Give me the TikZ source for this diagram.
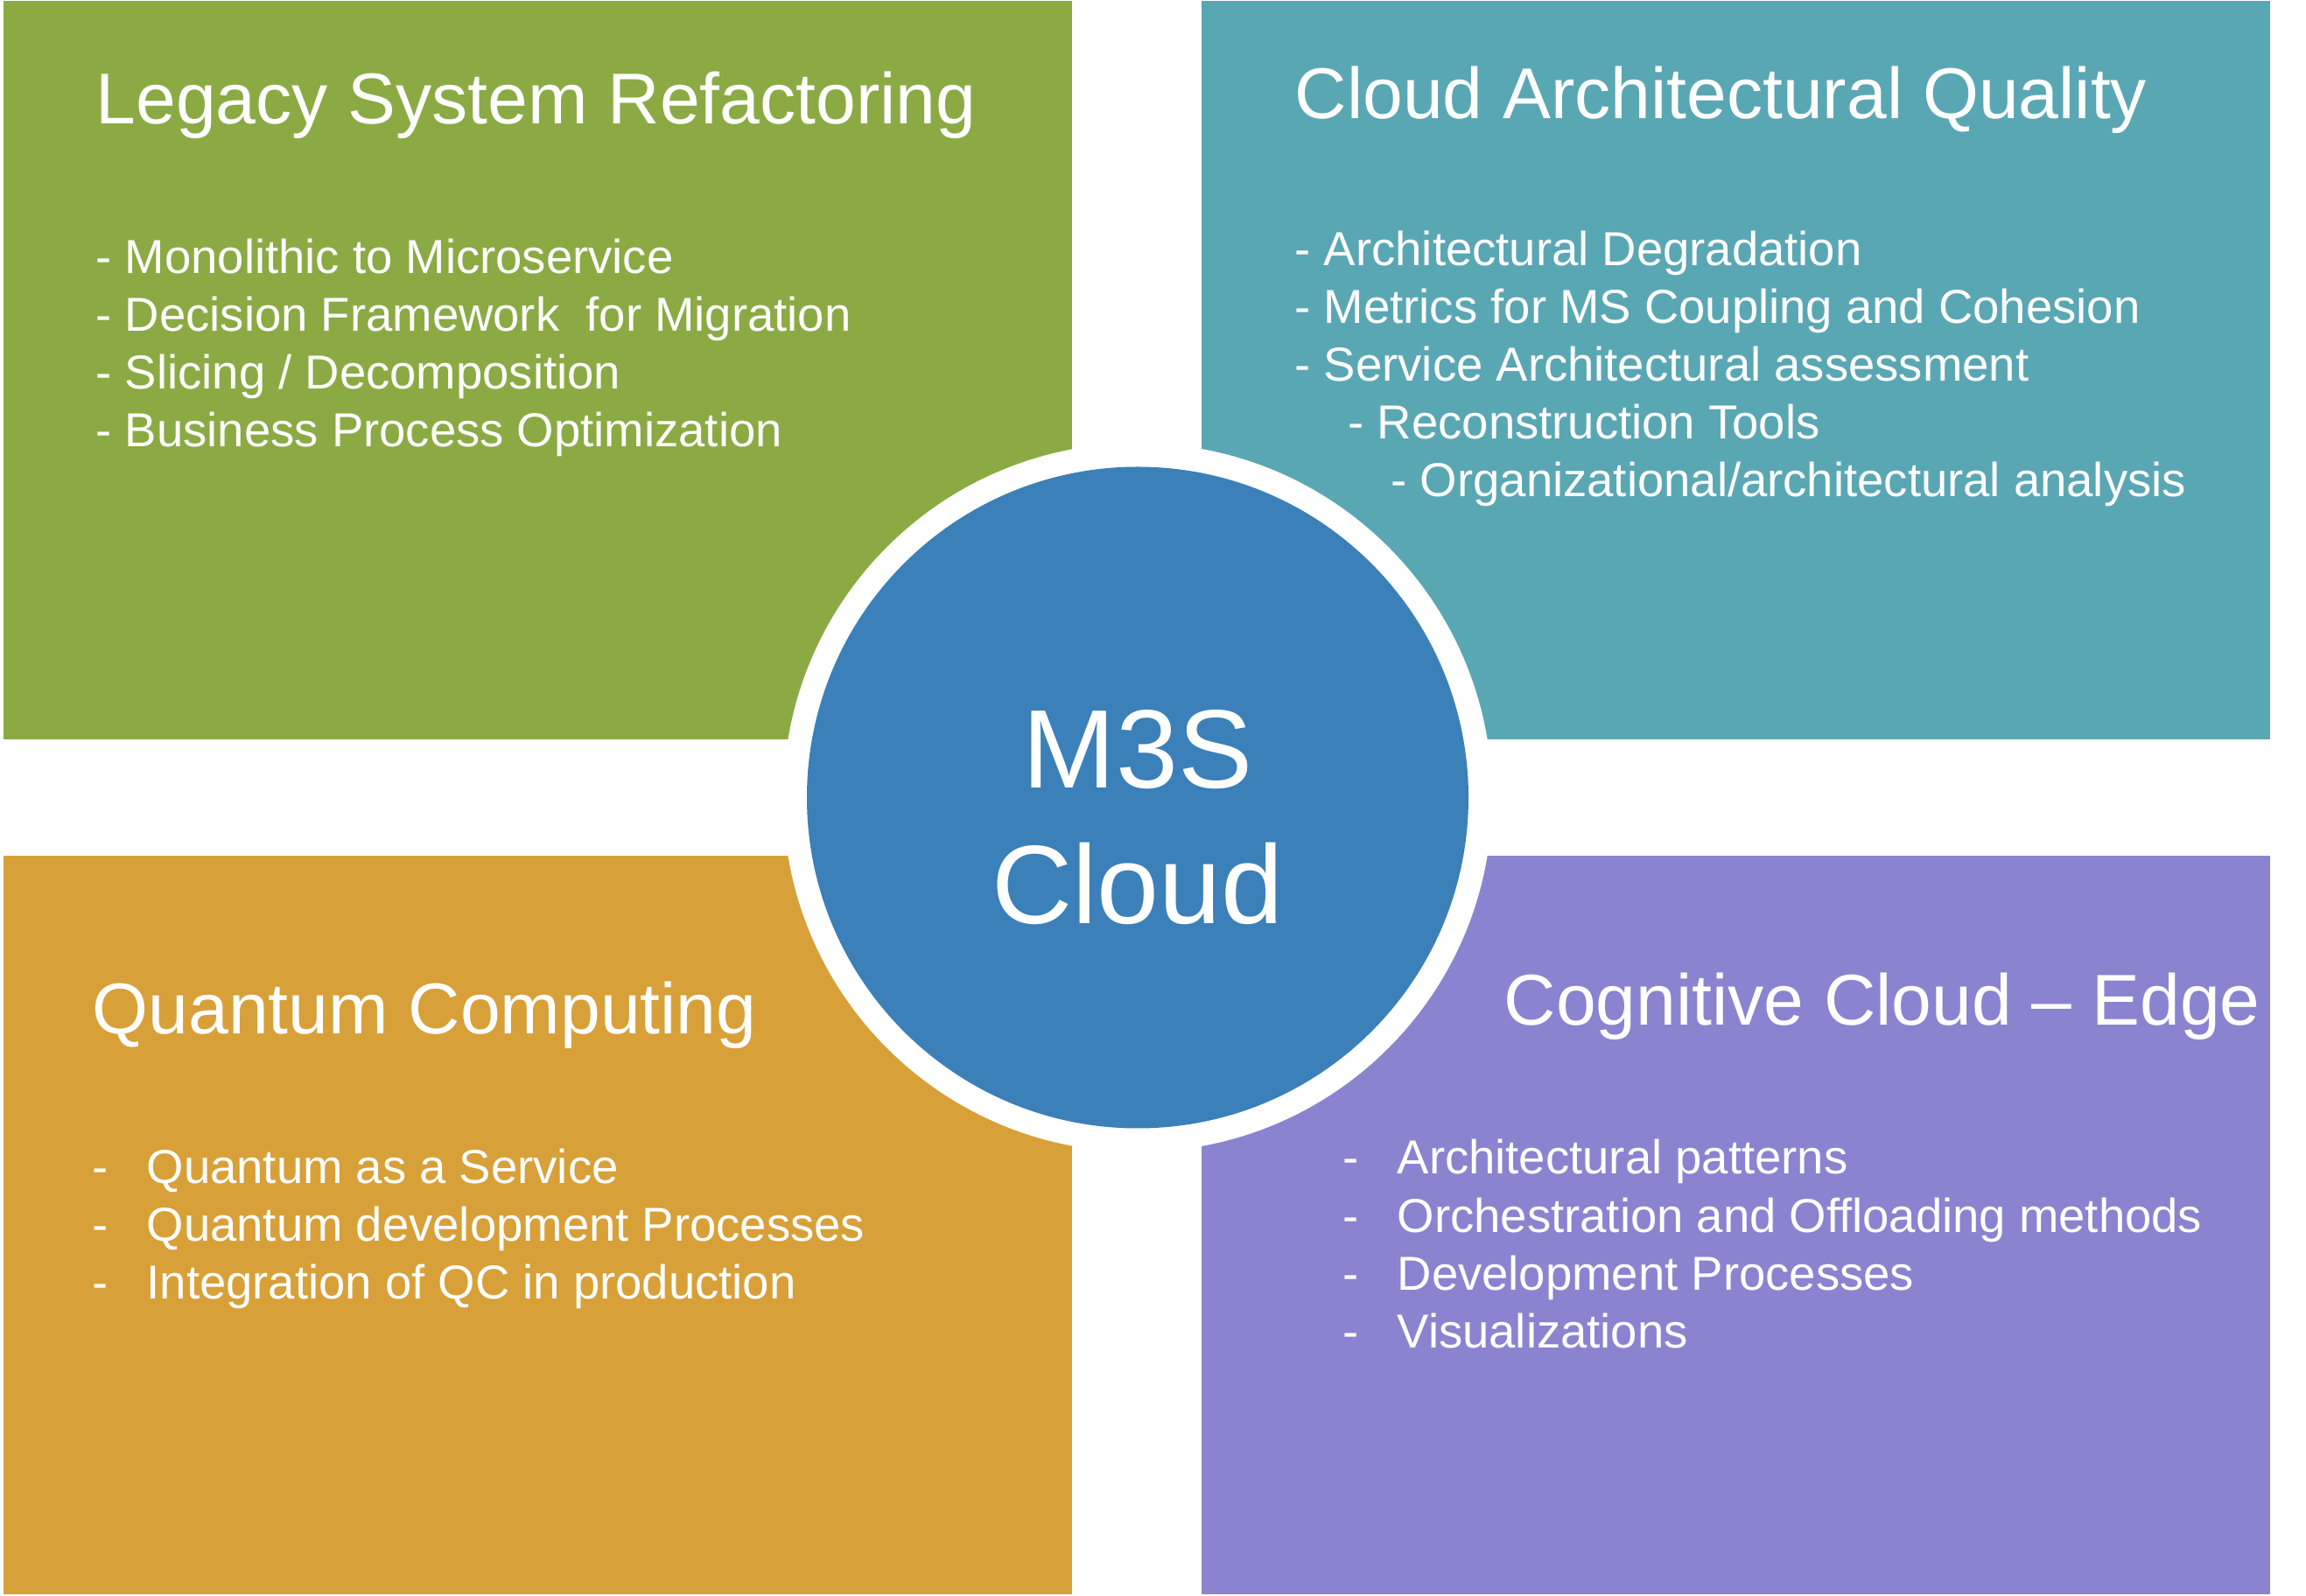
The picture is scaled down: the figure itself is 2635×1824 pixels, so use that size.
\documentclass[tikz,border=0pt]{standalone}
\usepackage{fontspec}
\setmainfont{Liberation Sans}

\definecolor{legacygreen}{RGB}{139,170,68}
\definecolor{qualityteal}{RGB}{90,167,180}
\definecolor{quantumorange}{RGB}{216,160,56}
\definecolor{edgepurple}{RGB}{138,131,208}
\definecolor{hubblue}{RGB}{59,128,185}

\tikzset{
  boxtitle/.style={anchor=base west,inner sep=0pt,text=white,font=\fontsize{23.4}{28}\selectfont},
  boxitem/.style={anchor=base west,inner sep=0pt,text=white,font=\fontsize{15.5}{19}\selectfont},
  hubtext/.style={anchor=base,inner sep=0pt,text=white,font=\fontsize{36.3}{42}\selectfont}
}

\begin{document}
\begin{tikzpicture}[x=0.1mm,y=-0.1mm]
    \useasboundingbox (0,0) rectangle (2635,1824);

    % four boxes
    \fill[legacygreen] (4,1) rectangle (1225,845);
    \fill[qualityteal] (1373,1) rectangle (2594,845);
    \fill[quantumorange] (4,978) rectangle (1225,1822);
    \fill[edgepurple] (1373,978) rectangle (2594,1822);

    % top left
    \node[boxtitle] (legacy) at (109,142) {Legacy System Refactoring};
    \foreach[count=\i] \t in {- Monolithic to Microservice,
        - Decision Framework\ \ for Migration,
        - Slicing / Decomposition,
        - Business Process Optimization} {
      \pgfmathsetmacro\y{313+(\i-1)*66}
      \node[boxitem] (legacy-\i) at (109,\y) {\t};
    }

    % top right
    \node[boxtitle] (quality) at (1479,136) {Cloud Architectural Quality};
    \foreach[count=\i] \x/\t in {1479/{- Architectural Degradation},
        1479/{- Metrics for MS Coupling and Cohesion},
        1479/{- Service Architectural assessment},
        1540/{- Reconstruction Tools},
        1589/{- Organizational/architectural analysis}} {
      \pgfmathsetmacro\y{304+(\i-1)*66}
      \node[boxitem] (quality-\i) at (\x,\y) {\t};
    }

    % bottom left
    \node[boxtitle] (quantum) at (105,1182) {Quantum Computing};
    \foreach[count=\i] \t in {Quantum as a Service,
        Quantum development Processes,
        Integration of QC in production} {
      \pgfmathsetmacro\y{1353+(\i-1)*66}
      \node[boxitem] (quantum-dash-\i) at (105,\y) {-};
      \node[boxitem] (quantum-\i) at (167,\y) {\t};
    }

    % bottom right
    \node[boxtitle] (edge) at (1718,1172) {Cognitive Cloud – Edge};
    \foreach[count=\i] \t in {Architectural patterns,
        Orchestration and Offloading methods,
        Development Processes,
        Visualizations} {
      \pgfmathsetmacro\y{1342+(\i-1)*66.3}
      \node[boxitem] (edge-dash-\i) at (1534,\y) {-};
      \node[boxitem] (edge-\i) at (1596,\y) {\t};
    }

    % hub
    \fill[white] (1300,911.5) circle[radius=405];
    \fill[hubblue] (1300,911.5) circle[radius=378];
    \node[hubtext] (hub-top) at (1300,901) {M3S};
    \node[hubtext] (hub-bottom) at (1300,1056) {Cloud};
\end{tikzpicture}
\end{document}
